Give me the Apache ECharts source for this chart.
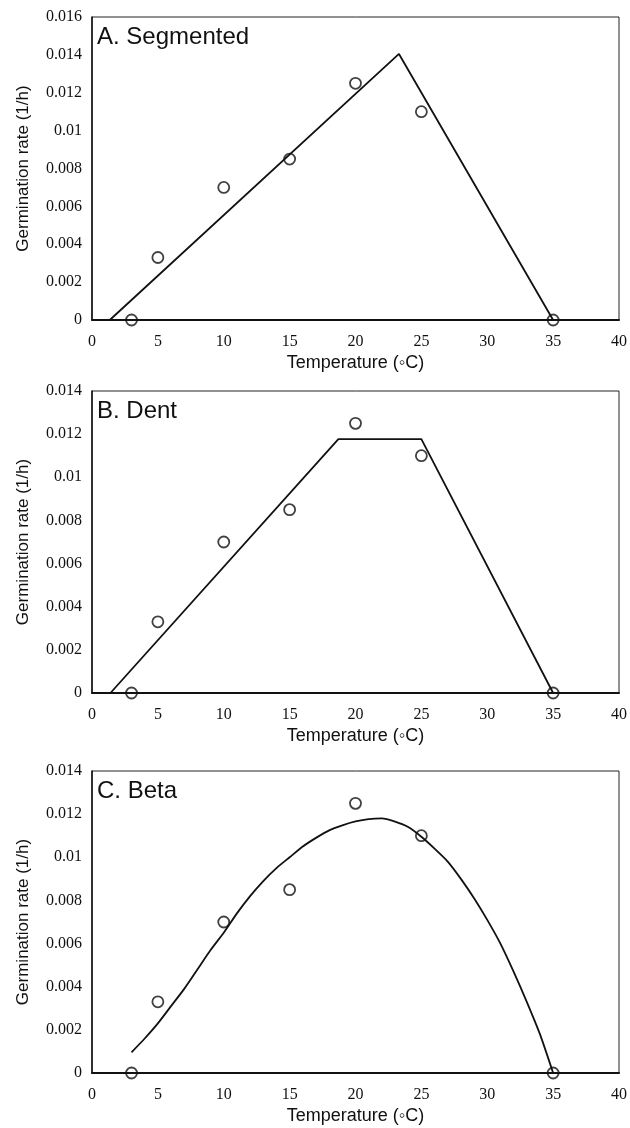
<!DOCTYPE html>
<html>
<head>
<meta charset="utf-8">
<script src="https://cdn.jsdelivr.net/npm/echarts@6/dist/echarts.min.js"></script>
<style>
  html, body { margin: 0; padding: 0; background: #fff; }
  #chart { width: 630px; height: 1128px; }
</style>
</head>
<body>
<div id="chart"></div>
<script>
// observed germination rates
const obsTemp = [3, 5, 10, 15, 20, 25, 35]
const obsRate = [0, 0.0033, 0.0070, 0.0085, 0.0125, 0.0110, 0]

// A. segmented fit
const segTemp = [1.35, 23.3, 35]
const segRate = [0, 0.01405, 0]

// B. dent fit
const dentTemp = [1.4, 18.7, 25, 35]
const dentRate = [0, 0.01177, 0.01177, 0]

// C. beta fit
const betaTemp = [3, 4, 5, 6, 7, 8, 9, 10, 11, 12, 13, 14, 15, 16, 17, 18, 19, 20,
  21, 22, 23, 24, 25, 26, 27, 28, 29, 30, 31, 32, 33, 34, 35]
const betaRate = [0.00096, 0.0016, 0.0023, 0.0031, 0.0039, 0.0048, 0.0057, 0.0065,
  0.0074, 0.0082, 0.0089, 0.0095, 0.0100, 0.0105, 0.0109, 0.01125, 0.01148, 0.01166,
  0.01177, 0.0118, 0.01165, 0.0114, 0.01095, 0.0104, 0.0098, 0.0090, 0.0081, 0.0071,
  0.0060, 0.0047, 0.0033, 0.0018, 0]

const panelTitles = ['A. Segmented', 'B. Dent', 'C. Beta']
const yMax = [0.016, 0.014, 0.014]
const xTitle = 'Temperature (◦C)'
const yTitle = 'Germination rate (1/h)'

const pairs = (xs, ys) => xs.map((x, i) => [x, ys[i]])

const gridTops = [17, 391, 771]
const gridH = [303, 302, 302]

const serif = 'Liberation Serif, Times New Roman, serif'
const sans = 'Liberation Sans, Arial, sans-serif'

const chart = echarts.init(document.getElementById('chart'))

const fits = [pairs(segTemp, segRate), pairs(dentTemp, dentRate), pairs(betaTemp, betaRate)]

const option = {
  backgroundColor: '#fff',
  animation: false,
  title: panelTitles.map((t, i) => ({
    text: t,
    left: 97,
    top: gridTops[i] + 8,
    padding: 0,
    textStyle: { fontFamily: sans, fontSize: 24, fontWeight: 'normal', color: '#111' }
  })),
  grid: gridTops.map((top, i) => ({
    left: 92,
    right: 11,
    top: top,
    height: gridH[i],
    show: true,
    borderColor: '#222',
    borderWidth: 1,
    backgroundColor: 'transparent'
  })),
  xAxis: gridTops.map((_, i) => ({
    type: 'value',
    gridIndex: i,
    min: 0,
    max: 40,
    interval: 5,
    name: xTitle,
    nameLocation: 'middle',
    nameGap: 34,
    nameTextStyle: { fontFamily: sans, fontSize: 18, color: '#111' },
    axisLine: { show: true, onZero: false, lineStyle: { color: '#111', width: 2 } },
    axisTick: { show: false },
    splitLine: { show: false },
    axisLabel: { fontFamily: serif, fontSize: 16, color: '#111', margin: 14 }
  })),
  yAxis: gridTops.map((_, i) => ({
    type: 'value',
    gridIndex: i,
    min: 0,
    max: yMax[i],
    interval: 0.002,
    name: yTitle,
    nameLocation: 'middle',
    nameGap: 60,
    nameTextStyle: { fontFamily: sans, fontSize: 17, color: '#111' },
    axisLine: { show: true, lineStyle: { color: '#111', width: 1.5 } },
    axisTick: { show: false },
    splitLine: { show: false },
    axisLabel: { fontFamily: serif, fontSize: 16, color: '#111', margin: 10 }
  })),
  series: []
}

fits.forEach((fit, i) => {
  option.series.push({
    type: 'line',
    xAxisIndex: i,
    yAxisIndex: i,
    data: fit,
    showSymbol: false,
    smooth: i === 2 ? 0.2 : false,
    lineStyle: { color: '#111', width: 1.8 },
    z: 2
  })
  option.series.push({
    type: 'scatter',
    xAxisIndex: i,
    yAxisIndex: i,
    data: pairs(obsTemp, obsRate),
    symbol: 'circle',
    symbolSize: 11,
    itemStyle: { color: 'rgba(255,255,255,0)', borderColor: '#111', borderWidth: 1.8 },
    z: 3
  })
})

chart.setOption(option)
</script>
</body>
</html>
